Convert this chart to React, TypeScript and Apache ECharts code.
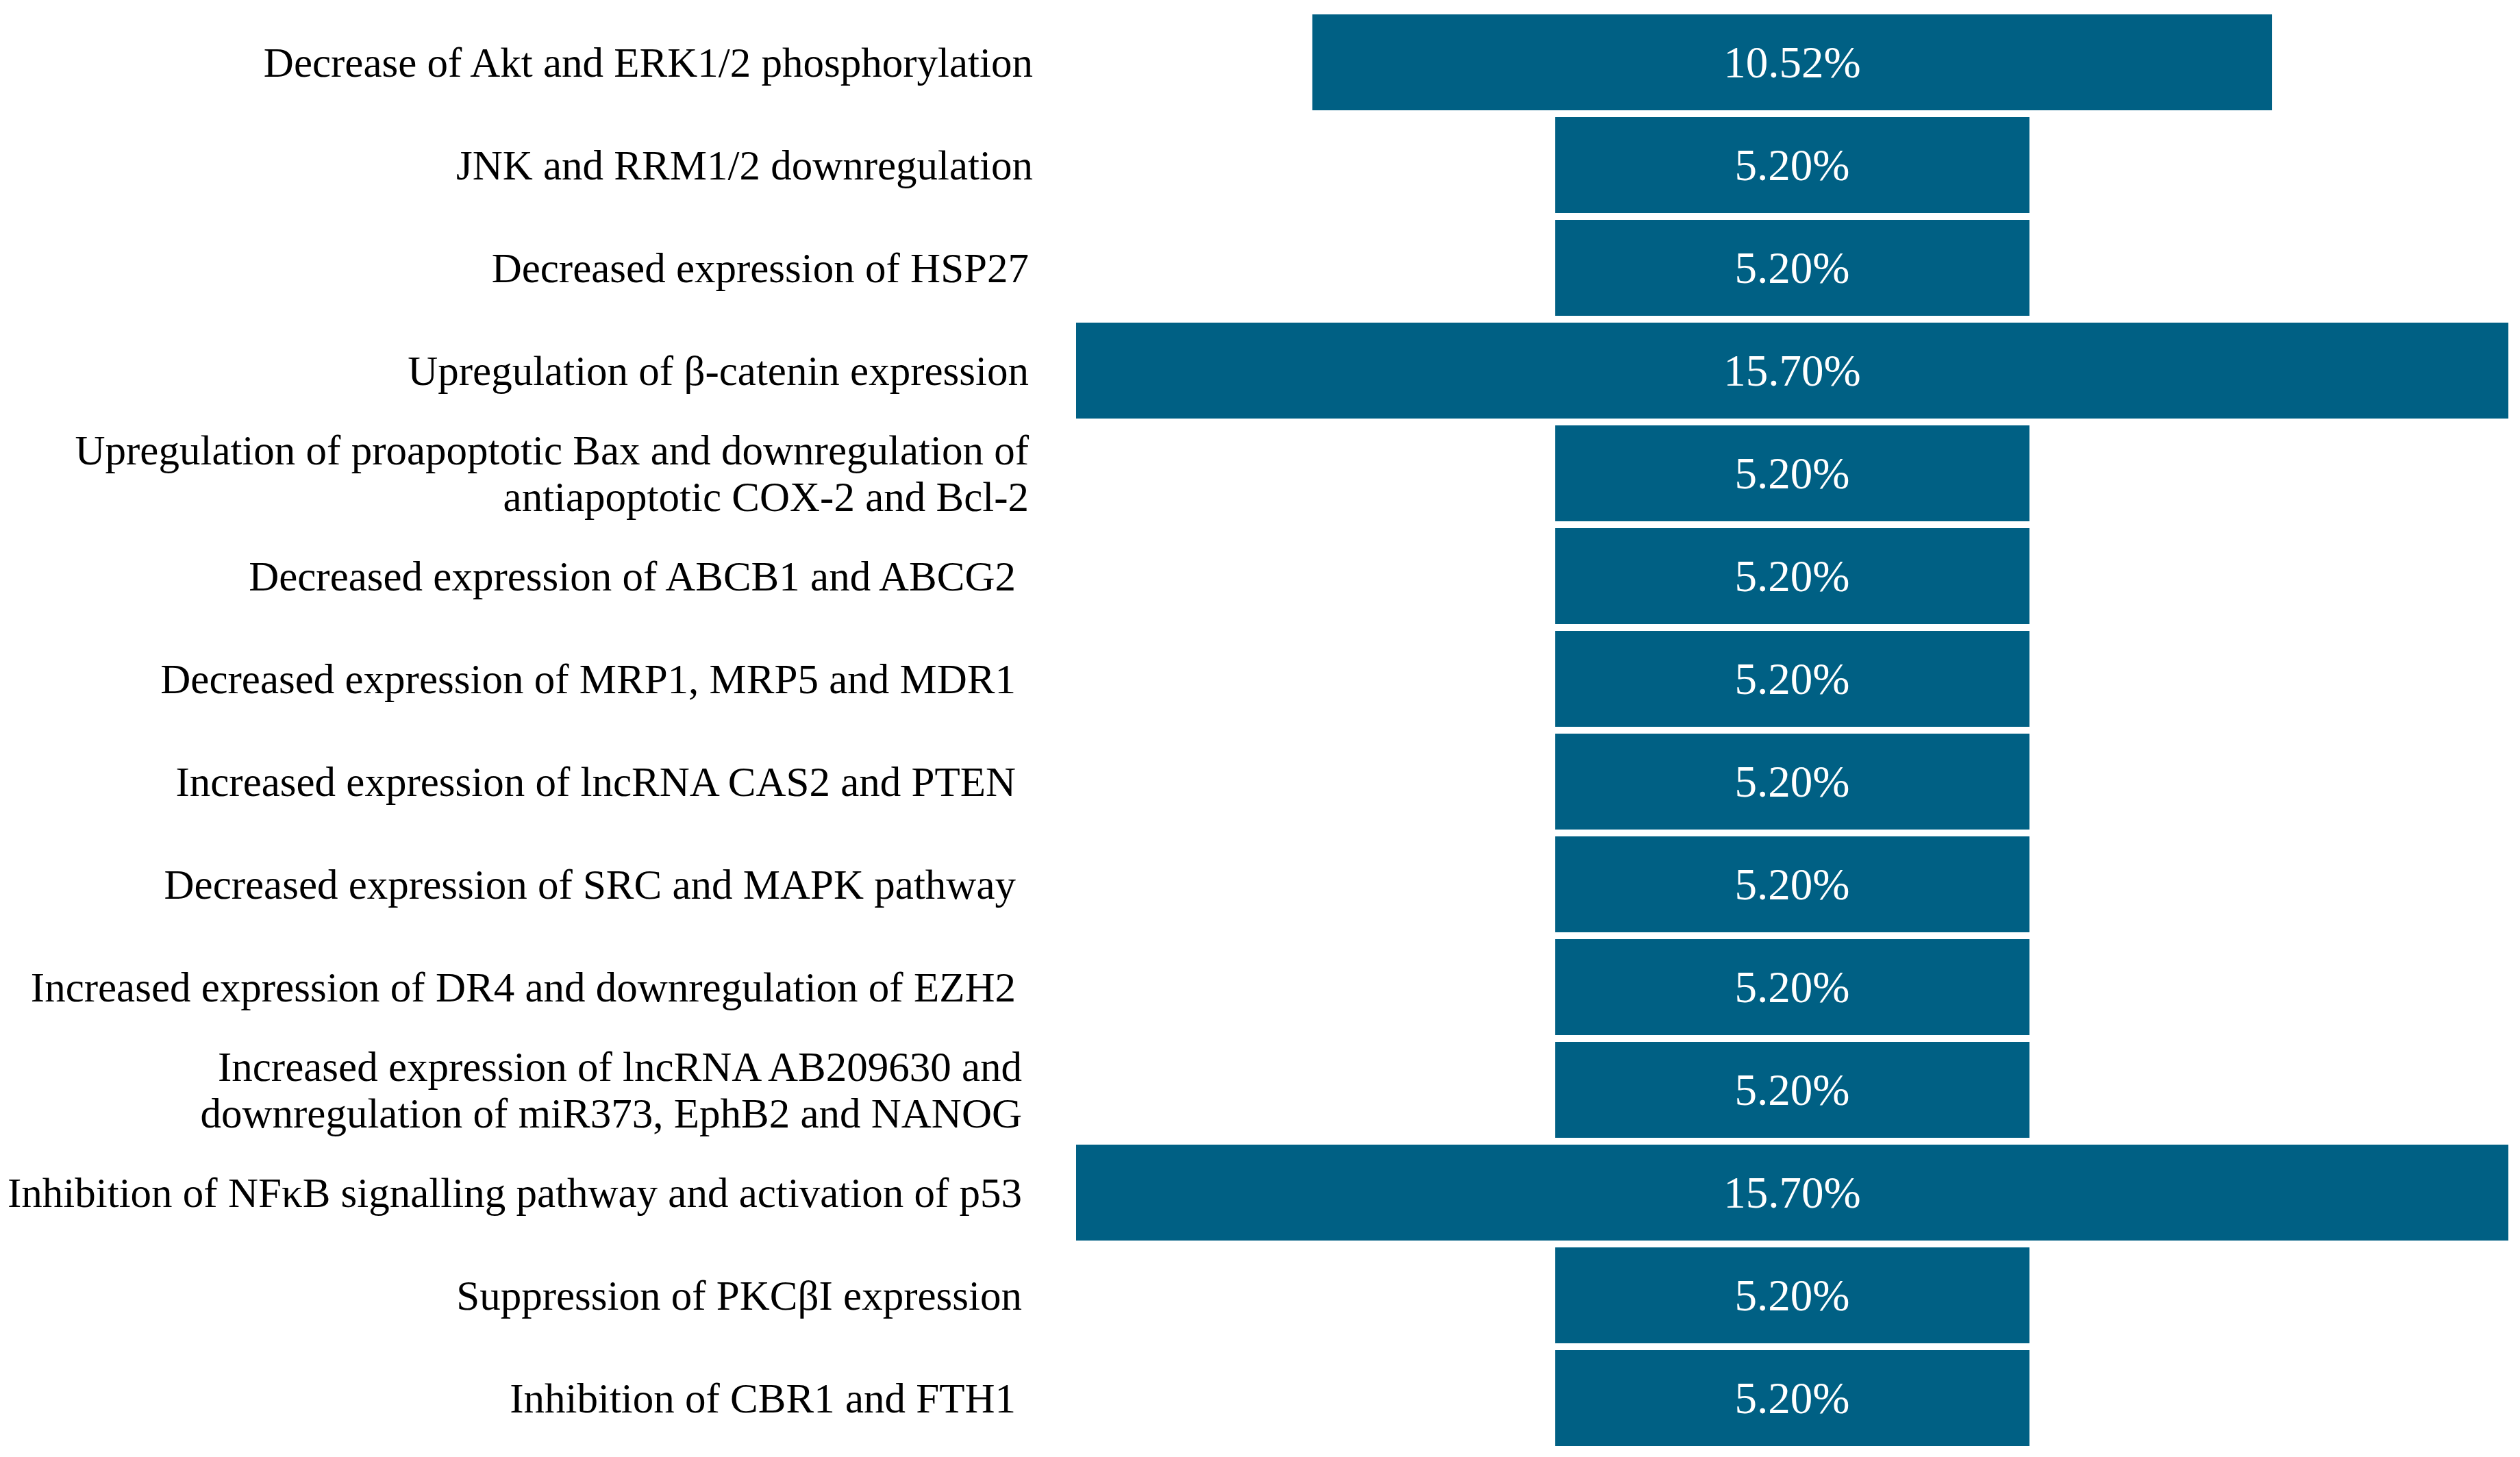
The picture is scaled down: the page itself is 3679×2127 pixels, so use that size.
import React, { useEffect, useRef } from "react";
import * as echarts from "echarts";

const categories = [
  "Decrease of Akt and ERK1/2 phosphorylation",
  "JNK and RRM1/2 downregulation",
  "Decreased expression of HSP27",
  "Upregulation of β-catenin expression",
  "Upregulation of proapoptotic Bax and downregulation of\nantiapoptotic COX-2 and Bcl-2",
  "Decreased expression of ABCB1 and ABCG2",
  "Decreased expression of MRP1, MRP5 and MDR1",
  "Increased expression of lncRNA CAS2 and PTEN",
  "Decreased expression of SRC and MAPK pathway",
  "Increased expression of DR4 and downregulation of EZH2",
  "Increased expression of lncRNA AB209630 and\ndownregulation of miR373, EphB2 and NANOG",
  "Inhibition of NFκB signalling pathway and activation of p53",
  "Suppression of PKCβI expression",
  "Inhibition of CBR1 and FTH1",
];

const values = [10.52, 5.2, 5.2, 15.7, 5.2, 5.2, 5.2, 5.2, 5.2, 5.2, 5.2, 15.7, 5.2, 5.2];

const maxValue = 15.7;

// extra right-hand indent (px) of each category label, as in the source figure
const labelIndent = [0, 0, 6, 6, 6, 25, 25, 25, 25, 25, 16, 16, 16, 25];

export default function App() {
  const ref = useRef<HTMLDivElement>(null);

  useEffect(() => {
    if (!ref.current) return;
    const chart = echarts.init(ref.current, null, { renderer: "svg" });
    const offsets = values.map((v) => (maxValue - v) / 2);
    const font = "'Liberation Serif', 'DejaVu Serif', serif";
    const yData = categories.map((c, i) => ({
      value: c,
      textStyle: { padding: [18, labelIndent[i], 0, 0] },
    }));
    chart.setOption({
      animation: false,
      backgroundColor: "#ffffff",
      grid: {
        left: 1571,
        top: 16,
        width: 2091,
        height: 2100,
        containLabel: false,
        outerBoundsMode: "none",
      },
      xAxis: { type: "value", min: 0, max: maxValue, show: false },
      yAxis: {
        type: "category",
        inverse: true,
        data: yData,
        axisLine: { show: false },
        axisTick: { show: false },
        splitLine: { show: false },
        axisLabel: {
          color: "#000000",
          fontFamily: font,
          fontSize: 61,
          lineHeight: 68,
          margin: 63,
          align: "right",
        },
      },
      series: [
        {
          type: "bar",
          stack: "funnel",
          data: offsets,
          itemStyle: { color: "rgba(0,0,0,0)" },
          silent: true,
          barCategoryGap: "6.67%",
        },
        {
          type: "bar",
          stack: "funnel",
          data: values,
          barCategoryGap: "6.67%",
          itemStyle: { color: "#006084" },
          label: {
            show: true,
            position: "inside",
            formatter: (p: any) => Number(p.value).toFixed(2) + "%",
            color: "#ffffff",
            fontFamily: font,
            fontSize: 65,
          },
        },
      ],
    });
    return () => chart.dispose();
  }, []);

  return (
    <div
      ref={ref}
      style={{ position: "fixed", left: 0, top: 0, width: "3679px", height: "2127px" }}
    />
  );
}
